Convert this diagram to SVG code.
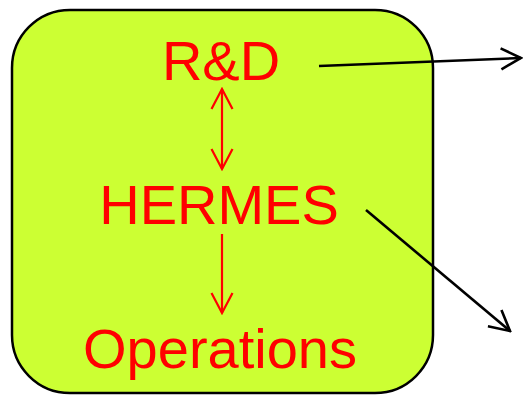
<svg xmlns="http://www.w3.org/2000/svg" width="523" height="395" viewBox="0 0 523 395">
  <defs>
    <marker id="redHead" viewBox="0 0 24 24" refX="22" refY="12" markerWidth="24" markerHeight="24" markerUnits="userSpaceOnUse" orient="auto-start-reverse">
      <path d="M2 1.5 L22 12 L2 22.5" fill="none" stroke="#ff0000" stroke-width="2.2"/>
    </marker>
    <marker id="blackHead" viewBox="0 0 24 24" refX="22" refY="12" markerWidth="24" markerHeight="24" markerUnits="userSpaceOnUse" orient="auto">
      <path d="M2 1.5 L22 12 L2 22.5" fill="none" stroke="#000000" stroke-width="2.6"/>
    </marker>
    <style>
      .label { font-family: "Liberation Sans", Arial, sans-serif; font-size: 56px; fill: #ff0000; text-anchor: middle; }
      .red { stroke: #ff0000; stroke-width: 2.2; fill: none; }
      .black { stroke: #000000; stroke-width: 2.6; fill: none; }
    </style>
  </defs>
  <rect width="523" height="395" fill="#ffffff"/>
  <g id="container">
    <rect x="12" y="10" width="421" height="383" rx="58" ry="58" fill="#ccff33" stroke="#000000" stroke-width="2.5"/>
  </g>
  <g id="rd">
    <text class="label" x="221" y="80">R&amp;D</text>
  </g>
  <g id="hermes">
    <text class="label" x="219" y="224">HERMES</text>
  </g>
  <g id="operations">
    <text class="label" x="220" y="368">Operations</text>
  </g>
  <g id="connectors">
    <line class="red" x1="222" y1="89" x2="222" y2="169" marker-start="url(#redHead)" marker-end="url(#redHead)"/>
    <line class="red" x1="222" y1="234" x2="222" y2="313" marker-end="url(#redHead)"/>
    <line class="black" x1="319" y1="66" x2="521" y2="58" marker-end="url(#blackHead)"/>
    <line class="black" x1="366" y1="210" x2="510" y2="331" marker-end="url(#blackHead)"/>
  </g>
</svg>
